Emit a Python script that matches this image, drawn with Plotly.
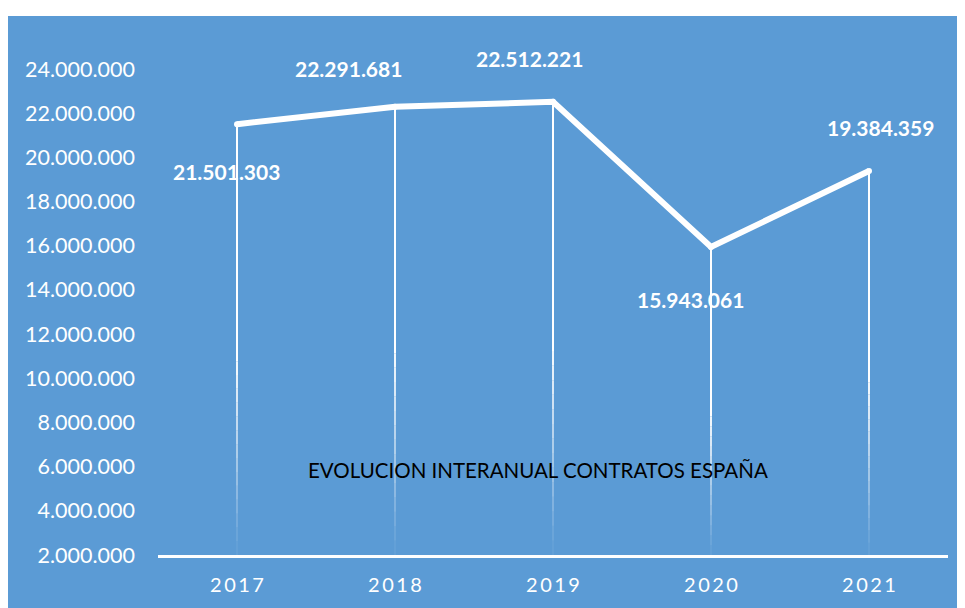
import plotly.graph_objects as go

years = ["2017", "2018", "2019", "2020", "2021"]
contracts = [21501303, 22291681, 22512221, 15943061, 19384359]
y_ticks = [2000000, 4000000, 6000000, 8000000, 10000000, 12000000,
           14000000, 16000000, 18000000, 20000000, 22000000, 24000000]
title_text = "EVOLUCION INTERANUAL CONTRATOS ESPAÑA"

BG = "#5B9BD5"
FONT = "Lato"

def fmt(v):
    return f"{v:,}".replace(",", ".")

idx = list(range(len(years)))
fig = go.Figure()

# drop lines that fade out toward the axis
base = y_ticks[0]
n_seg = 14
for i in range(n_seg + 1):
    xs, ys = [], []
    for k, v in zip(idx, contracts):
        fade_top = base + (v - base) * 0.45
        if i == 0:
            y0, y1 = v, fade_top
        else:
            y0 = fade_top - (fade_top - base) * (i - 1) / n_seg
            y1 = fade_top - (fade_top - base) * i / n_seg
        xs += [k, k, None]
        ys += [y0, y1, None]
    op = 1.0 if i == 0 else max(0.05, 0.95 * (1 - (i - 0.5) / n_seg))
    fig.add_trace(go.Scatter(
        x=xs, y=ys, mode="lines",
        line=dict(color=f"rgba(255,255,255,{op:.3f})", width=2),
        hoverinfo="skip", showlegend=False))

fig.add_trace(go.Scatter(
    x=idx, y=contracts, mode="lines+markers",
    line=dict(color="white", width=6),
    marker=dict(color="white", size=6),
    showlegend=False))

offsets = [(-11, -47), (-47, 38), (-24, 43), (-21, -53), (11, 43)]
for k, v, (dx, dy) in zip(idx, contracts, offsets):
    fig.add_annotation(x=k, y=v, xref="x", yref="y", text=f"<b>{fmt(v)}</b>",
                       showarrow=False, xshift=dx, yshift=dy,
                       xanchor="center", yanchor="middle",
                       font=dict(family=FONT, size=21, color="white"))

fig.add_annotation(x=0.481, y=0.175, xref="paper", yref="paper",
                   xanchor="center", yanchor="middle",
                   text=title_text, showarrow=False,
                   font=dict(family=FONT, size=20.5, color="black"))

fig.update_layout(
    width=957, height=600,
    paper_bgcolor=BG, plot_bgcolor=BG,
    margin=dict(l=150, r=17, t=61, b=53, pad=0),
    shapes=[dict(type="rect", xref="paper", yref="paper",
                 x0=-0.2, x1=1.05, y0=1.0 + 53 / 486, y1=1.2,
                 fillcolor="white", line=dict(width=0), layer="below")],
    xaxis=dict(range=[-0.5, 4.5], showgrid=False, automargin=False,
               showline=True, linecolor="white", linewidth=2.5,
               ticks="", tickvals=idx,
               ticktext=["\u2009".join(y) for y in years],
               tickfont=dict(family=FONT, size=20, color="white"),
               ticklabelstandoff=10, zeroline=False),
    yaxis=dict(range=[2000000, 24000000], showgrid=False, zeroline=False,
               showline=False, tickvals=y_ticks, automargin=False,
               ticktext=[fmt(t) for t in y_ticks],
               tickfont=dict(family=FONT, size=21.5, color="white"),
               ticklabelstandoff=22),
)

fig.write_html("out.html")
